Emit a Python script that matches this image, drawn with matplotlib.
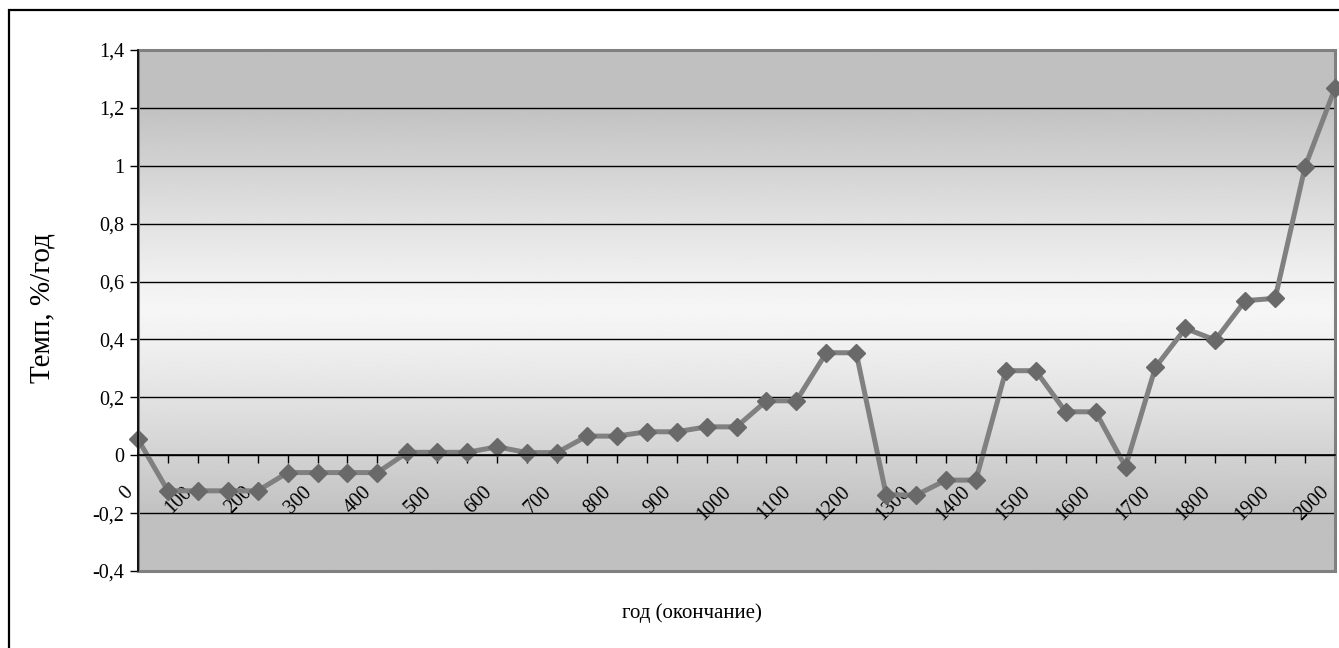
import numpy as np
import matplotlib
matplotlib.use("Agg")
import matplotlib.pyplot as plt
from matplotlib.patches import Rectangle
from matplotlib.transforms import ScaledTranslation
from matplotlib.ticker import FuncFormatter

plt.rcParams['font.family'] = ['Liberation Serif', 'DejaVu Serif']

# Period end years (every 50 years) and average growth rate, %/year
years = list(range(0, 2001, 50))
rate = [0.055, -0.123, -0.123, -0.123, -0.123, -0.060, -0.060, -0.060, -0.060,
        0.010, 0.010, 0.010, 0.029, 0.009, 0.009, 0.066, 0.066, 0.081, 0.081,
        0.098, 0.098, 0.188, 0.188, 0.354, 0.354, -0.136, -0.138, -0.086, -0.086,
        0.292, 0.292, 0.150, 0.150, -0.040, 0.304, 0.438, 0.398, 0.534, 0.542,
        0.997, 1.268]
y_ticks = [-0.4, -0.2, 0.0, 0.2, 0.4, 0.6, 0.8, 1.0, 1.2, 1.4]
y_label = "Темп, %/год"
x_label = "год (окончание)"

W, H = 1339, 648
fig = plt.figure(figsize=(W / 100, H / 100), dpi=100)
fig.patch.set_facecolor("white")

# outer chart frame
fig.add_artist(Rectangle((9 / W, -0.05), 1.2, 1 - 10 / H + 0.05,
                         transform=fig.transFigure, fill=False,
                         edgecolor="black", linewidth=1.6))

left, right, top, bottom = 138, 1335, 50, 571
ax = fig.add_axes([left / W, 1 - bottom / H, (right - left) / W, (bottom - top) / H])

n = len(years)
xs = np.arange(n)
ax.set_xlim(0, n - 1)
ax.set_ylim(y_ticks[0], y_ticks[-1])

# vertical gradient backdrop: grey at top and bottom, near-white in the middle
vals = np.linspace(y_ticks[-1], y_ticks[0], 400)
t = np.clip(np.abs(vals - 0.5) / 0.72, 0, 1) ** 1.15
light, dark = 0.965, 0.753
col = light - (light - dark) * t
img = np.repeat(col[:, None], 2, axis=1)
ax.imshow(img, cmap="gray", vmin=0, vmax=1, aspect="auto",
          extent=[0, n - 1, y_ticks[0], y_ticks[-1]], zorder=0,
          interpolation="bilinear")

# horizontal gridlines
for v in y_ticks[1:-1]:
    ax.axhline(v, color="black", linewidth=1.0, zorder=1)

# plot-area border
ax.add_patch(Rectangle((0, 0), 1, 1, transform=ax.transAxes, fill=False,
                       edgecolor="#808080", linewidth=2.2, zorder=2,
                       clip_on=False))

ax.plot(xs, rate, color="#808080", linewidth=3.6, zorder=3, clip_on=False)
ax.plot(xs, rate, linestyle="none", marker="D", markersize=9.5,
        color="#696969", markeredgecolor="#696969", zorder=4, clip_on=False)

for s in ["top", "right"]:
    ax.spines[s].set_visible(False)
ax.spines["left"].set_color("black")
ax.spines["left"].set_linewidth(1.2)
ax.spines["left"].set_zorder(5)
ax.spines["bottom"].set_position(("data", 0))
ax.spines["bottom"].set_color("black")
ax.spines["bottom"].set_linewidth(1.2)
ax.spines["bottom"].set_zorder(5)

ax.set_yticks(y_ticks)
ax.yaxis.set_major_formatter(FuncFormatter(
    lambda v, p: f"{round(v, 2):g}".replace(".", ",")))
ax.tick_params(axis="y", direction="out", length=6, width=1, colors="black",
               labelsize=14.5, pad=4)

ax.set_xticks(xs)
ax.set_xticklabels([str(y) if i % 2 == 0 else "" for i, y in enumerate(years)])
ax.tick_params(axis="x", direction="out", length=6, width=1, colors="black",
               labelsize=14.5, pad=0)
offset = ScaledTranslation(-0.15, -0.19, fig.dpi_scale_trans)
for lab in ax.get_xticklabels():
    lab.set_rotation(45)
    lab.set_ha("right")
    lab.set_va("top")
    lab.set_rotation_mode("anchor")
    lab.set_transform(lab.get_transform() + offset)

ax.set_ylabel(y_label, fontsize=21)
ax.yaxis.set_label_coords(-0.069, 0.505)
ax.set_xlabel(x_label, fontsize=15)
ax.xaxis.set_label_coords(0.463, -0.081)
ax.xaxis.label.set_va("center")

fig.savefig("out.png", dpi=100)
